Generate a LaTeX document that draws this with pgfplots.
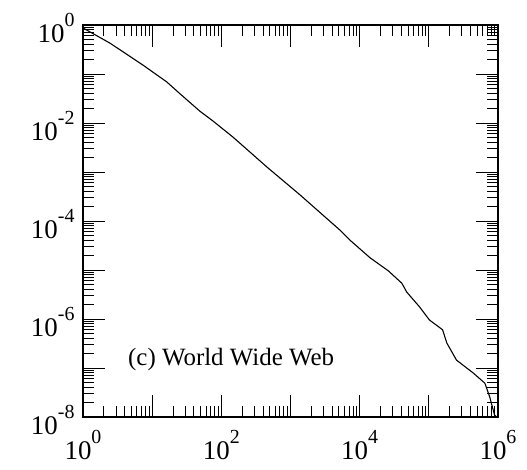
\documentclass[border=0pt]{standalone}
\usepackage{pgfplots}
\pgfplotsset{compat=1.18}
\usepackage{fontspec}
\setmainfont{Liberation Serif}
\newcommand\tp[1]{10\raisebox{0.6em}{\fontsize{20}{20}\selectfont #1}}
\begin{document}
\begin{tikzpicture}
\begin{axis}[
  name=ax,
  xmode=log, ymode=log,
  xmin=1, xmax=1e6, ymin=1e-8, ymax=1,
  scale only axis, width=415bp, height=392bp,
  axis line style={line width=1.6pt},
  tick align=inside,
  xtick pos=both, ytick pos=both,
  major tick length=22bp, minor tick length=11bp,
  every tick/.style={black, line width=0.9pt},
  xtick={1,10,100,1000,10000,100000,1000000},
  xticklabels={\tp{0},,\tp{2},,\tp{4},,\tp{6}},
  ytick={1e-8,1e-7,1e-6,1e-5,1e-4,1e-3,1e-2,1e-1,1},
  yticklabels={\tp{-8},,\tp{-6},,\tp{-4},,\tp{-2},,\tp{0}},
  ticklabel style={font=\fontsize{27}{30}\selectfont},
  xticklabel style={yshift=-10bp},
  yticklabel style={xshift=-5bp, yshift=-3bp},
  clip=true,
]
\addplot[black, line width=1.1pt] coordinates {
(1,0.87)
(2.45,0.427)
(7.41,0.151)
(16.2,0.0692)
(25.1,0.0398)
(49.0,0.0174)
(75.9,0.01096)
(148,0.00513)
(457,0.00126)
(1380,3.39e-4)
(5130,6.61e-5)
(7240,4.07e-5)
(14100,1.78e-5)
(26000,9.6e-6)
(40700,5.37e-6)
(47900,3.55e-6)
(74100,1.74e-6)
(102000,9.55e-7)
(158000,6.03e-7)
(182000,3.24e-7)
(251000,1.45e-7)
(437000,7.94e-8)
(646000,4.90e-8)
(759000,2.57e-8)
(891000,1.10e-8)
(955000,1e-8)
};
\node[anchor=base west, font=\fontsize{25}{30}\selectfont] at (axis cs:4.0,1.1e-7) {(c) World Wide Web};
\end{axis}
\path ([shift={(-83bp,-53bp)}]ax.south west) rectangle ([shift={(29bp,25bp)}]ax.north east);
\end{tikzpicture}
\end{document}
